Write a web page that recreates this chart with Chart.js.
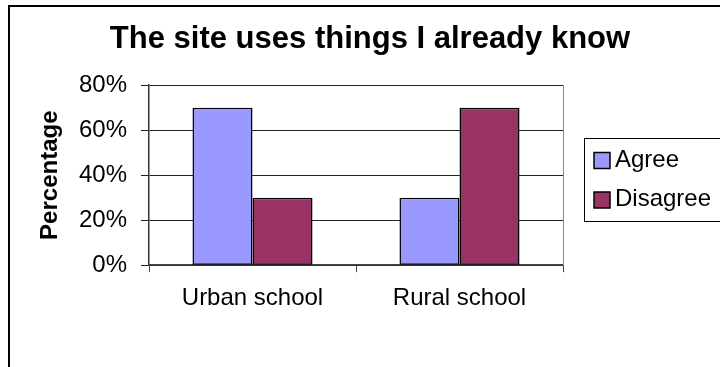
<!DOCTYPE html>
<html>
<head>
<meta charset="utf-8">
<script src="https://cdn.jsdelivr.net/npm/chart.js@4/dist/chart.umd.min.js"></script>
<style>
  html, body { margin: 0; padding: 0; background: #fff; }
  #wrap { position: relative; width: 720px; height: 367px; }
</style>
</head>
<body>
<div id="wrap"><canvas id="c" width="720" height="367"></canvas></div>
<script>
const categories = ['Urban school', 'Rural school'];
const agreeValues = [70, 30];
const disagreeValues = [30, 70];
const seriesNames = ['Agree', 'Disagree'];
const yTickValues = [0, 20, 40, 60, 80];
const titleText = 'The site uses things I already know';
const yAxisTitle = 'Percentage';

const FONT = "'Liberation Sans', Arial, Helvetica, sans-serif";

const frameAndLegend = {
  id: 'frameAndLegend',
  afterDraw(chart) {
    const ctx = chart.ctx;
    const a = chart.chartArea;
    ctx.save();
    // outer chart frame (right/bottom edges fall outside the picture)
    ctx.strokeStyle = '#000';
    ctx.lineWidth = 2;
    ctx.strokeRect(9, 6, 740, 400);
    // plot area right border
    ctx.strokeStyle = '#888';
    ctx.lineWidth = 1;
    ctx.beginPath();
    ctx.moveTo(Math.round(a.right) + 0.5, a.top);
    ctx.lineTo(Math.round(a.right) + 0.5, a.bottom);
    ctx.stroke();
    // legend box
    const lx = 584.5, ly = 138.5, lh = 83;
    ctx.strokeStyle = '#000';
    ctx.lineWidth = 1;
    ctx.strokeRect(lx, ly, 200, lh);
    ctx.font = '24px ' + FONT;
    ctx.textBaseline = 'alphabetic';
    ctx.textAlign = 'left';
    chart.data.datasets.forEach((ds, i) => {
      const base = 166.5 + i * 39.5;
      ctx.fillStyle = ds.backgroundColor;
      ctx.fillRect(594, base - 14, 16, 16);
      ctx.strokeStyle = '#000';
      ctx.lineWidth = 1.5;
      ctx.strokeRect(594, base - 14, 16, 16);
      ctx.fillStyle = '#000';
      ctx.fillText(ds.label, 615, base);
    });
    ctx.restore();
  }
};

new Chart(document.getElementById('c'), {
  type: 'bar',
  data: {
    labels: categories,
    datasets: [
      { label: seriesNames[0], data: agreeValues, backgroundColor: '#9999FF',
        borderColor: '#000', borderWidth: 1.5, borderSkipped: false, yAxisID: 'y' },
      { label: seriesNames[1], data: disagreeValues, backgroundColor: '#993366',
        borderColor: '#000', borderWidth: 1.5, borderSkipped: false, yAxisID: 'y' }
    ]
  },
  options: {
    responsive: false,
    animation: false,
    devicePixelRatio: 1,
    categoryPercentage: 0.58,
    barPercentage: 1.0,
    layout: { padding: { left: 20, right: 0, top: 0, bottom: 42 } },
    plugins: {
      legend: { display: false },
      tooltip: { enabled: false },
      title: {
        display: true,
        text: titleText,
        color: '#000',
        font: { family: FONT, size: 31, weight: 'bold', lineHeight: 1.2 },
        padding: { top: 21, bottom: 27 }
      }
    },
    scales: {
      x: {
        grid: { display: true, drawOnChartArea: false, drawTicks: true, tickLength: 7,
                offset: true, color: '#444', lineWidth: 1 },
        border: { display: true, color: '#444', width: 1.5 },
        ticks: { color: '#000', font: { family: FONT, size: 24 }, padding: 12 }
      },
      y: {
        min: 0, max: 80,
        afterBuildTicks(scale) { scale.ticks = yTickValues.map(v => ({ value: v })); },
        afterFit(scale) { scale.width = 129; },
        grid: { color: '#222', lineWidth: 1, tickLength: 8 },
        border: { display: true, color: '#333', width: 1.5 },
        ticks: { color: '#000', font: { family: FONT, size: 24 }, padding: 14,
                 callback: v => v + '%' },
        title: { display: true, text: yAxisTitle, color: '#000',
                 font: { family: FONT, size: 24, weight: 'bold', lineHeight: 1.2 },
                 padding: { top: 16, bottom: 0 } }
      },
      yR: {
        position: 'right',
        display: true,
        grid: { display: false },
        border: { display: false },
        ticks: { display: false },
        afterFit(scale) { scale.width = 157; }
      }
    }
  },
  plugins: [frameAndLegend]
});
</script>
</body>
</html>
